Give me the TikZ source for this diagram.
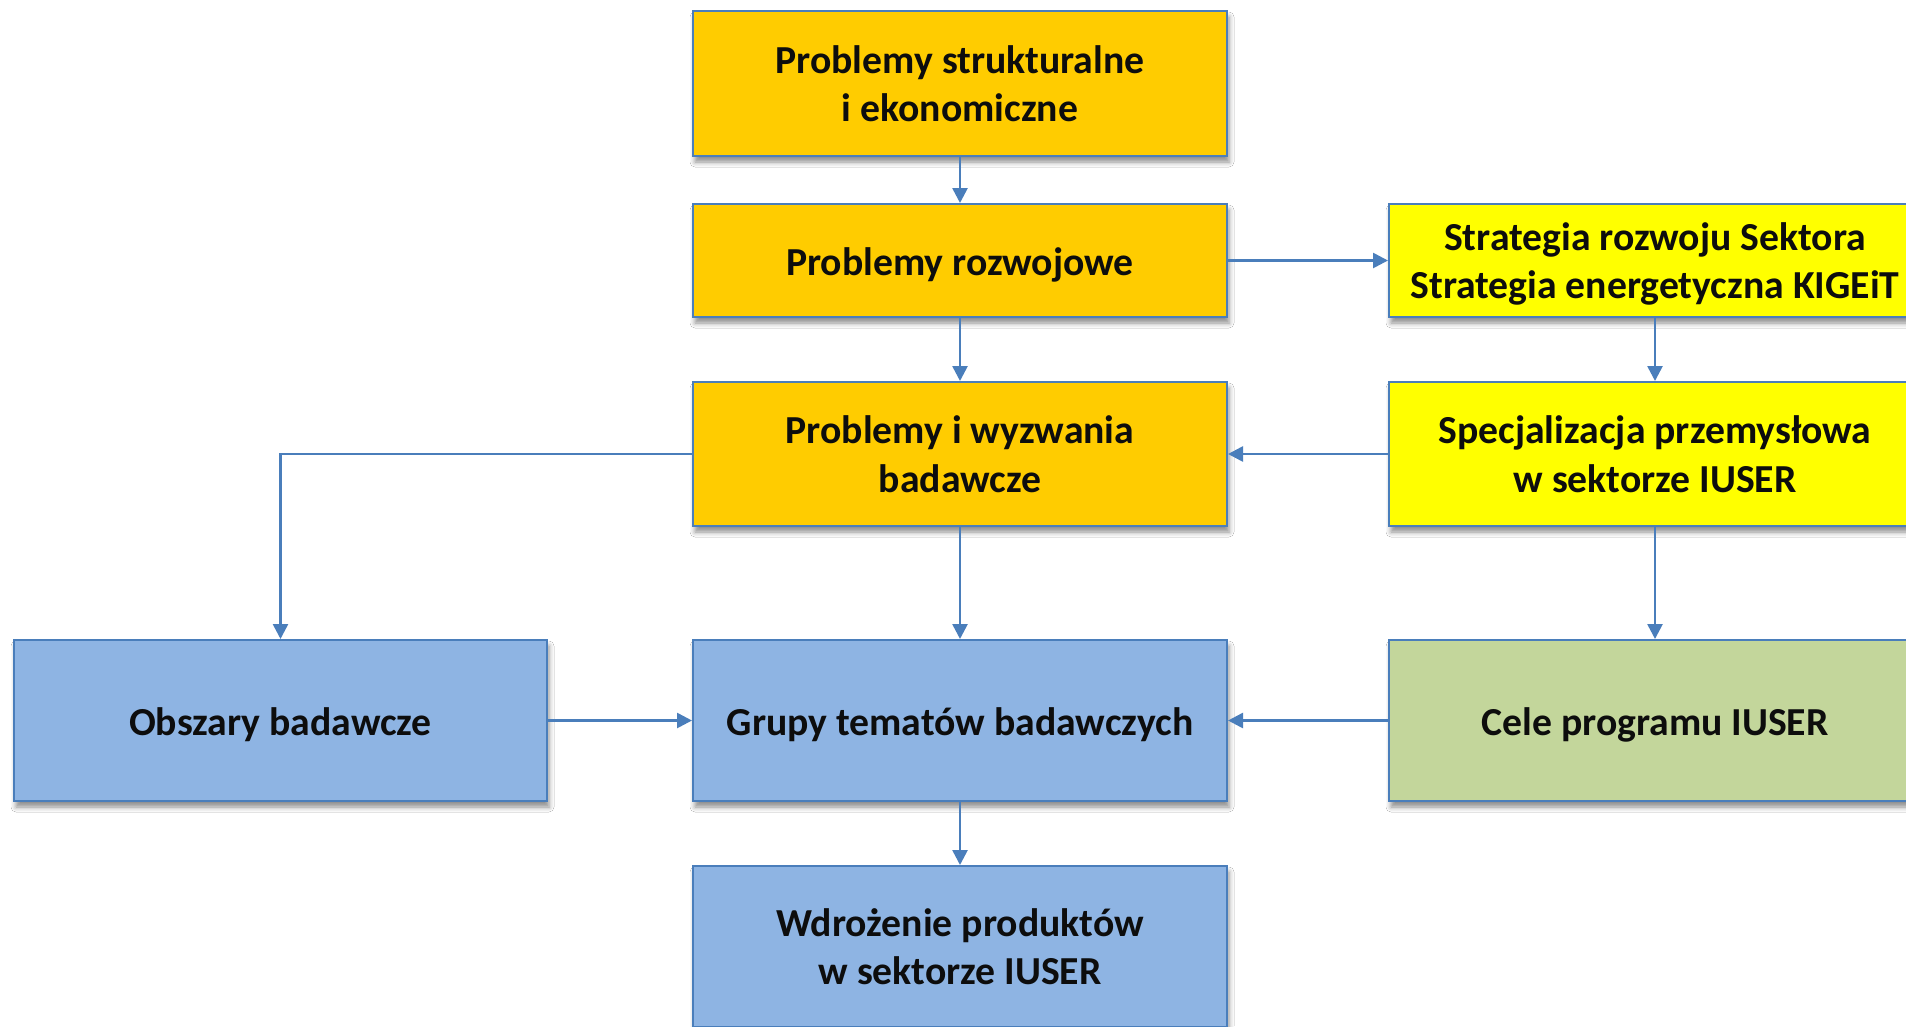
\documentclass[tikz,border=0pt]{standalone}
\usepackage{fontspec}
\setmainfont{Carlito}
\usetikzlibrary{arrows.meta,shadows.blur}
\definecolor{boxorange}{HTML}{FFCC00}
\definecolor{boxyellow}{HTML}{FFFF00}
\definecolor{boxblue}{HTML}{8EB4E3}
\definecolor{boxgreen}{HTML}{C3D69B}
\definecolor{edgeblue}{HTML}{4A7EBB}
\definecolor{txt}{HTML}{0D0D0D}
\newcommand\twolines[2]{\rule{0pt}{36pt}#1\\#2\rule[-8pt]{0pt}{8pt}}
\tikzset{
  box/.style={draw=edgeblue, line width=2pt, inner sep=0pt, align=center,
    text=txt, font=\bfseries\fontsize{39.7}{48.5}\selectfont,
    blur shadow={shadow xshift=2pt, shadow yshift=-6pt, shadow blur radius=5pt, shadow opacity=45}},
  oneline/.style={text height=37pt, text depth=8pt},
  conn/.style={draw=edgeblue, line width=2.6pt, -{Triangle[length=15pt,width=15pt]}},
}
\begin{document}
\begin{tikzpicture}[x=1pt,y=-1pt]
\useasboundingbox (0,0) rectangle (1906,1026);
\clip (0,0) rectangle (1906,1026);
\fill[white] (0,0) rectangle (1906,1026);
\node[box, fill=boxorange, minimum width=534pt, minimum height=145pt] (A) at (960,83.5) {\twolines{Problemy strukturalne}{i ekonomiczne}};
\node[box, oneline, fill=boxorange, minimum width=534pt, minimum height=113pt] (B) at (960,260.5) {Problemy rozwojowe};
\node[box, fill=boxyellow, minimum width=532pt, minimum height=113pt] (C) at (1655,260.5) {\twolines{Strategia rozwoju Sektora}{Strategia energetyczna KIGEiT}};
\node[box, fill=boxorange, minimum width=534pt, minimum height=144pt] (D) at (960,454) {\twolines{Problemy i wyzwania}{badawcze}};
\node[box, fill=boxyellow, minimum width=532pt, minimum height=144pt] (E) at (1655,454) {\twolines{Specjalizacja przemysłowa}{w sektorze IUSER}};
\node[box, oneline, fill=boxblue, minimum width=533pt, minimum height=161pt] (F) at (280.5,720.5) {Obszary badawcze};
\node[box, oneline, fill=boxblue, minimum width=534pt, minimum height=161pt] (G) at (960,720.5) {Grupy tematów badawczych};
\node[box, oneline, fill=boxgreen, minimum width=532pt, minimum height=161pt] (H) at (1655,720.5) {Cele programu IUSER};
\node[box, fill=boxblue, minimum width=534pt, minimum height=161pt] (I) at (960,946.5) {\twolines{Wdrożenie produktów}{w sektorze IUSER}};
\draw[conn] (A) -- (B);
\draw[conn] (B) -- (C);
\draw[conn] (B) -- (D);
\draw[conn] (C) -- (E);
\draw[conn] (E) -- (D);
\draw[conn] (D.west) -| (F.north);
\draw[conn] (D) -- (G);
\draw[conn] (E) -- (H);
\draw[conn] (F) -- (G);
\draw[conn] (H) -- (G);
\draw[conn] (G) -- (I);
\end{tikzpicture}
\end{document}
